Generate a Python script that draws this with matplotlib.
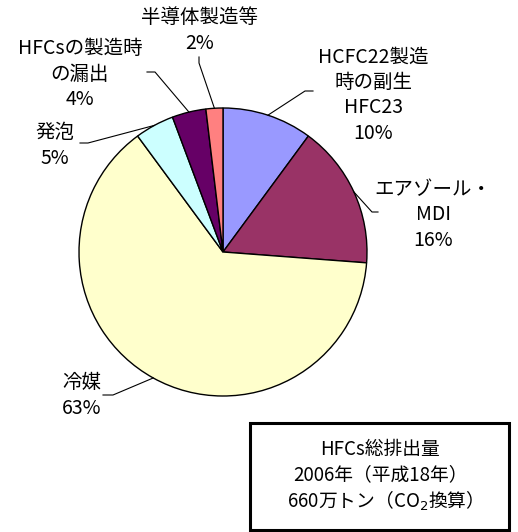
import matplotlib
matplotlib.use("Agg")
import matplotlib.pyplot as plt
import numpy as np
from matplotlib.patches import Rectangle

plt.rcParams['font.family'] = ['Noto Sans CJK JP', 'DejaVu Sans']

# ---- data ----
categories = ["HCFC22製造\n時の副生\nHFC23", "エアゾール・\nMDI", "冷媒", "発泡",
              "HFCsの製造時\nの漏出", "半導体製造等"]
values = [10.1, 16.1, 63.7, 4.4, 3.8, 1.9]
pct_labels = ["10%", "16%", "63%", "5%", "4%", "2%"]
colors = ["#9999FF", "#993366", "#FFFFCC", "#CCFFFF", "#660066", "#FF8080"]
box_lines = ["HFCs総排出量", "2006年（平成18年）", "660万トン（CO$_2$換算）"]

# ---- layout (pixel coords, y down) ----
W, H = 518, 532
fig = plt.figure(figsize=(W / 100, H / 100), dpi=100)
ax = fig.add_axes([0, 0, 1, 1])

def Y(y):
    return H - y

cx, cy, R = 223, 252, 144
wedges, _ = ax.pie(values, colors=colors, startangle=90, counterclock=False,
                   center=(cx, Y(cy)), radius=R, frame=True,
                   wedgeprops=dict(edgecolor='black', linewidth=1.0))
ax.set_xlim(0, W)
ax.set_ylim(0, H)
ax.axis('off')

# label block centers and leader-line start/elbow points (pixels)
label_pos = [(373, 95), (433, 215), (82, 395.5), (55, 145.5), (80, 74), (200, 30.5)]
leaders = [((313, 91), (305, 91)), ((378, 212), (372, 212)), ((103, 395), (113, 395)),
           ((80, 143), (88, 143)), ((147, 72), (155, 72)), ((199, 57), (199, 63))]
pitch = 25.5
fs = 14

for w, cat, pct, (lx, ly), (p0, p1) in zip(wedges, categories, pct_labels, label_pos, leaders):
    lines = cat.split("\n") + [pct]
    n = len(lines)
    for i, t in enumerate(lines):
        yy = ly + (i - (n - 1) / 2) * pitch
        ax.text(lx, Y(yy), t, ha='center', va='center', fontsize=fs, color='black')
    mid = np.deg2rad((w.theta1 + w.theta2) / 2)
    ax_, ay_ = cx + R * np.cos(mid), Y(cy) + R * np.sin(mid)
    ax.plot([p0[0], p1[0], ax_], [Y(p0[1]), Y(p1[1]), ay_], color='black', lw=0.8)

# info box
ax.add_patch(Rectangle((250, Y(530)), 259, 107, fill=False, edgecolor='black', linewidth=2.2))
for i, t in enumerate(box_lines):
    ax.text(380, Y(449 + i * 26), t, ha='center', va='center', fontsize=13.5)

fig.savefig("out.png", dpi=100)
